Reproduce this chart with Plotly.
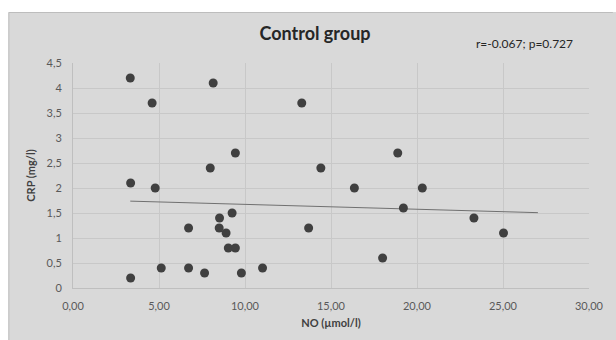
import numpy as np
import plotly.graph_objects as go

# Data
no_values = [3.33, 4.60, 8.15, 13.30, 3.35, 3.35, 4.78, 5.13, 6.72, 6.72,
             7.65, 7.98, 8.52, 8.50, 8.90, 9.03, 9.25, 9.44, 9.44, 9.79,
             11.02, 13.70, 14.41, 16.36, 18.00, 18.88, 19.21, 20.31, 23.31, 25.03]
crp_values = [4.2, 3.7, 4.1, 3.7, 2.1, 0.2, 2.0, 0.4, 1.2, 0.4,
              0.3, 2.4, 1.4, 1.2, 1.1, 0.8, 1.5, 2.7, 0.8, 0.3,
              0.4, 1.2, 2.4, 2.0, 0.6, 2.7, 1.6, 2.0, 1.4, 1.1]
title_text = "Control group"
stats_text = "r=-0.067; p=0.727"
x_title = "NO (µmol/l)"
y_title = "CRP (mg/l)"
trend_forward = 2.0

# linear trend (Excel-style, forecast forward)
slope, intercept = np.polyfit(no_values, crp_values, 1)
tx = [min(no_values), max(no_values) + trend_forward]
ty = [slope * v + intercept for v in tx]

FONT = "Lato, Open Sans, sans-serif"
TXT = "#595959"
GRID = "#c8c8c8"
BG = "#d9d9d9"

fig = go.Figure()
fig.add_trace(go.Scatter(x=tx, y=ty, mode="lines",
                         line=dict(color="#707070", width=1),
                         hoverinfo="skip", showlegend=False))
fig.add_trace(go.Scatter(x=no_values, y=crp_values, mode="markers",
                         marker=dict(color="#404040", size=9, line=dict(width=0)),
                         showlegend=False))

W, H = 616, 340
l, r, t, b = 73, 24, 63, 52
pw, ph = W - l - r, H - t - b

def px_x(p):
    return (p - l) / pw

def px_y(p):
    return 1 - (p - t) / ph

# white strips outside the chart frame (top and left)
fig.add_shape(type="rect", xref="paper", yref="paper", layer="above",
              x0=px_x(-5), x1=px_x(625), y0=px_y(12), y1=px_y(-5),
              fillcolor="white", line=dict(width=0))
fig.add_shape(type="rect", xref="paper", yref="paper", layer="above",
              x0=px_x(-5), x1=px_x(8), y0=px_y(345), y1=px_y(-5),
              fillcolor="white", line=dict(width=0))
# frame border
fig.add_shape(type="line", xref="paper", yref="paper", layer="above",
              x0=px_x(8.5), x1=px_x(616), y0=px_y(12.5), y1=px_y(12.5),
              line=dict(color="#bdbdbd", width=1))
fig.add_shape(type="line", xref="paper", yref="paper", layer="above",
              x0=px_x(8.5), x1=px_x(8.5), y0=px_y(12.5), y1=px_y(345),
              line=dict(color="#bdbdbd", width=1))

fig.update_layout(
    width=W, height=H,
    margin=dict(l=l, r=r, t=t, b=b),
    paper_bgcolor=BG, plot_bgcolor=BG,
    separators=",.",
    font=dict(family=FONT, color=TXT, size=11),
    title=dict(text="<b>" + title_text + "</b>", xref="container", x=315 / W,
               xanchor="center", yref="container", y=1 - 34 / H, yanchor="middle",
               font=dict(family=FONT, size=18, color="#262626")),
    annotations=[dict(text=stats_text, xref="paper", yref="paper",
                      x=px_x(527), y=px_y(44), xanchor="center", yanchor="middle",
                      showarrow=False, font=dict(family=FONT, size=12, color="#262626"))],
)
fig.update_xaxes(range=[0, 30], dtick=5, tickformat=".2f",
                 showgrid=True, gridcolor=GRID, gridwidth=1,
                 showline=True, linecolor="#bfbfbf", zeroline=False,
                 ticks="", ticklabelstandoff=8,
                 tickfont=dict(size=11, color=TXT),
                 title=dict(text="<b>" + x_title + "</b>", standoff=8,
                            font=dict(size=11, color="#404040")))
fig.update_yaxes(range=[0, 4.5], dtick=0.5,
                 showgrid=True, gridcolor=GRID, gridwidth=1,
                 showline=True, linecolor="#bfbfbf", zeroline=False,
                 ticks="", ticklabelstandoff=8,
                 tickfont=dict(size=11, color=TXT),
                 title=dict(text="<b>" + y_title + "</b>", standoff=8,
                            font=dict(size=11, color="#404040")))

fig.write_html("out.html", config={"displayModeBar": False},
               post_script="document.body.style.margin='0';document.body.style.padding='0';")
